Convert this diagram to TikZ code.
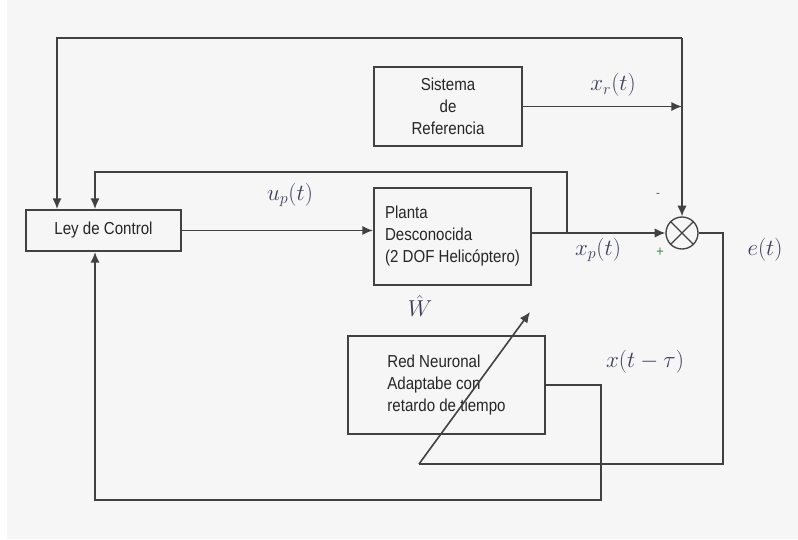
\documentclass[tikz,border=0pt]{standalone}
\usepackage{amsmath}
\usepackage{fontspec}
\setmainfont{Liberation Sans}[FakeStretch=0.87]
\usepackage{tikz}
\usepackage{xcolor}
\usetikzlibrary{arrows.meta, positioning}

\definecolor{bgcol}{RGB}{246,246,246}
\definecolor{linecol}{RGB}{65,65,65}
\definecolor{labcol}{RGB}{62,62,92}
\definecolor{pluscol}{RGB}{60,140,60}

\begin{document}
\begin{tikzpicture}[x=0.75pt, y=-0.75pt,
        blk/.style={rectangle, draw=linecol, line width=1.3pt, fill=bgcol, font=\fontsize{13}{16.5}\selectfont, text=black!85},
        arr/.style={draw=linecol, line width=1.2pt, -{Latex[length=8pt, width=7pt]}},
        ln/.style={draw=linecol, line width=1.2pt},
        lab/.style={text=labcol, font=\fontsize{17}{20}\selectfont}]
        \useasboundingbox (0,0) rectangle (798,539);
        \fill[bgcol] (7,0) rectangle (798,539);

        \node[blk, minimum width=116pt, minimum height=31pt] (ley) at (103.5, 230.5) {Ley de Control};
        \node[blk, minimum width=111pt, minimum height=59pt, align=center] (ref) at (448, 106.5) {Sistema\\ de\\Referencia};
        \node[blk, minimum width=118pt, minimum height=73pt, align=left] (planta) at (452.5, 236.5) {Planta\\Desconocida\\(2 DOF Helicóptero)};
        \node[blk, minimum width=148pt, minimum height=73.5pt, align=left] (red) at (446.5, 385) {Red Neuronal\\Adaptabe con\\retardo de tiempo};
        \node[circle, draw=linecol, line width=1pt, fill=bgcol, minimum size=24pt, inner sep=0pt] (sum) at (682, 233) {};
        \draw[linecol, line width=0.9pt] (sum.north west) to (sum.south east)
            (sum.north east) to (sum.south west);

        \coordinate (topL) at (57, 38);
        \coordinate (topR) at (682, 38);
        \coordinate (fbR) at (567, 172);
        \coordinate (fbL) at (95, 172);
        \coordinate (errR) at (723, 464);
        \coordinate (wfoot) at (419, 464);
        \coordinate (wtip) at (530, 312);
        \coordinate (dlyR) at (601, 500);
        \coordinate (dlyL) at (95, 500);

        \draw[arr] (topR) to (topL) to (topL |- ley.north);
        \draw[arr] (topR) to (sum.north);
        \draw[arr] (ref.east) to (ref.east -| sum);
        \draw[arr] (ley.east) to (ley.east -| planta.west);
        \draw[arr] (sum -| planta.east) to (sum.west);
        \draw[arr] (fbR |- sum) to (fbR) to (fbL) to (fbL |- ley.north);
        \draw[ln] (sum.east) -| (errR) to (wfoot);
        \draw[arr] (wfoot) to (wtip);
        \draw[arr] (red.east) -| (dlyR) to (dlyL) to (dlyL |- ley.south);

        \node[lab] (xr) at (613, 85) {$x_r(t)$};
        \node[lab] (up) at (290, 195) {$u_p(t)$};
        \node[lab] (xp) at (598, 250) {$x_p(t)$};
        \node[lab] (et) at (765, 250) {$e(t)$};
        \node[lab] (xd) at (645, 362) {$x(t-\tau)$};
        \node[lab] (wh) at (420, 306) {$\hat{W}$};
        \node[text=pluscol, font=\fontsize{11}{12}\selectfont] (plus) at (660, 252) {+};
        \node[text=black!60, font=\fontsize{10}{11}\selectfont] (minus) at (658, 195) {-};
\end{tikzpicture}
\end{document}
